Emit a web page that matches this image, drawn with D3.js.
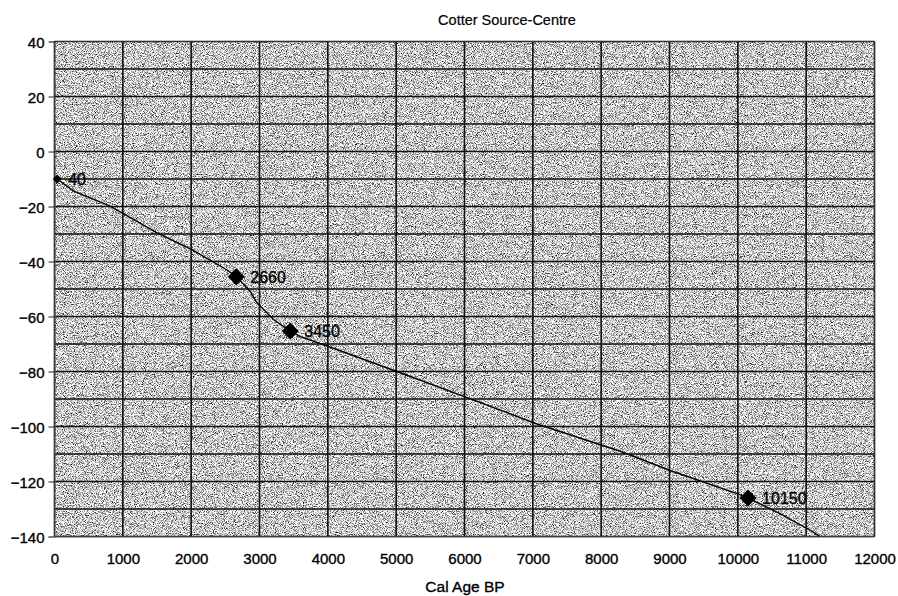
<!DOCTYPE html>
<html>
<head>
<meta charset="utf-8">
<script src="https://cdn.jsdelivr.net/npm/d3@7"></script>
<style>
  html, body { margin: 0; padding: 0; background: #ffffff; }
  svg { display: block; font-family: "Liberation Sans", Arial, sans-serif; }
</style>
</head>
<body>
<svg id="chart" width="898" height="596"></svg>
<script>
// ---- data ----
const chartTitle = "Cotter Source-Centre";
const xAxisTitle = "Cal Age BP";
// traced age-depth curve
const curveAge   = [40, 280, 815, 1500, 2010, 2520, 2660, 2865, 2965, 3210, 3450, 3600, 4010, 5010, 6010, 7040, 8280, 9010, 10010, 10150, 10610, 10880, 11020, 11200];
const curveDepth = [-10, -14.4, -19.9, -29.6, -35.7, -43, -45.5, -50.9, -55.1, -61.2, -65.3, -67.3, -70.9, -80, -89.2, -98.9, -109, -116, -124.6, -126, -131.6, -135.3, -137.1, -140];
// dated points (diamond markers with labels)
const datedAge   = [40, 2660, 3450, 10150];
const datedDepth = [-10, -45.5, -65.3, -126];
const datedLabel = ["40", "2660", "3450", "10150"];
// axis ticks
const xTicks = [0, 1000, 2000, 3000, 4000, 5000, 6000, 7000, 8000, 9000, 10000, 11000, 12000];
const yTicks = [40, 20, 0, -20, -40, -60, -80, -100, -120, -140];
const yGrid  = [40, 30, 20, 10, 0, -10, -20, -30, -40, -50, -60, -70, -80, -90, -100, -110, -120, -130, -140];

// ---- layout ----
const W = 898, H = 596;
const m = { left: 54.5, right: 23.5, top: 41.5, bottom: 59.5 };
const svg = d3.select("#chart");

const x = d3.scaleLinear().domain([0, 12000]).range([m.left, W - m.right]);
const y = d3.scaleLinear().domain([-140, 40]).range([H - m.bottom, m.top]);

// speckled background filter
const defs = svg.append("defs");
const f = defs.append("filter").attr("id", "speckle")
  .attr("x", 0).attr("y", 0).attr("width", "100%").attr("height", "100%")
  .attr("color-interpolation-filters", "sRGB");
f.append("feTurbulence").attr("type", "fractalNoise").attr("baseFrequency", 1.1)
  .attr("numOctaves", 2).attr("seed", 7).attr("result", "t");
f.append("feColorMatrix").attr("type", "matrix")
  .attr("values", "2.3 0 0 0 -0.36  2.3 0 0 0 -0.36  2.3 0 0 0 -0.36  0 0 0 0 1");

defs.append("clipPath").attr("id", "plotclip").append("rect")
  .attr("x", m.left).attr("y", m.top)
  .attr("width", W - m.left - m.right).attr("height", H - m.top - m.bottom);

svg.append("rect")
  .attr("x", m.left).attr("y", m.top)
  .attr("width", W - m.left - m.right).attr("height", H - m.top - m.bottom)
  .attr("fill", "#c4c4c4")
  .attr("filter", "url(#speckle)");

// grid lines
svg.append("g").selectAll("line").data(yGrid).join("line")
  .attr("x1", m.left).attr("x2", W - m.right)
  .attr("y1", d => y(d)).attr("y2", d => y(d))
  .attr("stroke", "#111").attr("stroke-width", 1.6);
svg.append("g").selectAll("line").data(xTicks).join("line")
  .attr("x1", d => x(d)).attr("x2", d => x(d))
  .attr("y1", m.top).attr("y2", H - m.bottom)
  .attr("stroke", "#111").attr("stroke-width", 1.6);

// plot border
svg.append("rect")
  .attr("x", m.left).attr("y", m.top)
  .attr("width", W - m.left - m.right).attr("height", H - m.top - m.bottom)
  .attr("fill", "none").attr("stroke", "#333").attr("stroke-width", 1);

const txt = sel => sel.attr("fill", "#000").attr("stroke", "#000").attr("stroke-width", 0.35)
  .attr("font-family", "'Liberation Sans', Arial, sans-serif");

// y axis
const yAxis = d3.axisLeft(y).tickValues(yTicks).tickSize(6).tickPadding(4).tickFormat(d3.format("d"));
const gy = svg.append("g").attr("transform", `translate(${m.left},0)`).call(yAxis);
gy.select(".domain").attr("stroke", "#555").attr("stroke-dasharray", "1,1");
gy.selectAll(".tick line").attr("stroke", "#222");
gy.selectAll(".tick text").attr("font-size", 15).attr("dy", "0.4em").call(txt);

// x axis
const xAxis = d3.axisBottom(x).tickValues(xTicks).tickSize(0).tickPadding(20).tickFormat(d3.format("d"));
const gx = svg.append("g").attr("transform", `translate(0,${H - m.bottom})`).call(xAxis);
gx.select(".domain").attr("stroke", "#555").attr("stroke-dasharray", "1,1");
gx.selectAll(".tick text").attr("font-size", 15).attr("dy", "0.5em").call(txt);

// curve
const line = d3.line().x((d, i) => x(curveAge[i])).y((d, i) => y(curveDepth[i]));
svg.append("path").datum(curveAge).attr("clip-path", "url(#plotclip)")
  .attr("d", line).attr("fill", "none").attr("stroke", "#000").attr("stroke-width", 1.4);

// diamonds
const pts = datedAge.map((a, i) => ({ a, d: datedDepth[i], lab: datedLabel[i], i }));
svg.append("g").selectAll("path").data(pts).join("path")
  .attr("transform", p => `translate(${x(p.a)},${y(p.d)})`)
  .attr("d", p => { const r = p.i === 0 ? 4.5 : 8.5; return `M0,${-r}L${r},0L0,${r}L${-r},0Z`; })
  .attr("fill", "#000");

svg.append("g").selectAll("text").data(pts).join("text")
  .attr("x", p => x(p.a) + (p.i === 0 ? 11 : 14))
  .attr("y", p => y(p.d) + 6)
  .attr("font-size", 16)
  .text(p => p.lab).call(txt);

// titles
svg.append("text").attr("x", 507).attr("y", 25).attr("text-anchor", "middle")
  .attr("font-size", 14.5).text(chartTitle).call(txt).attr("stroke-width", 0.2);
svg.append("text").attr("x", 465).attr("y", 592).attr("text-anchor", "middle")
  .attr("font-size", 15.5).text(xAxisTitle).call(txt);
</script>
</body>
</html>
